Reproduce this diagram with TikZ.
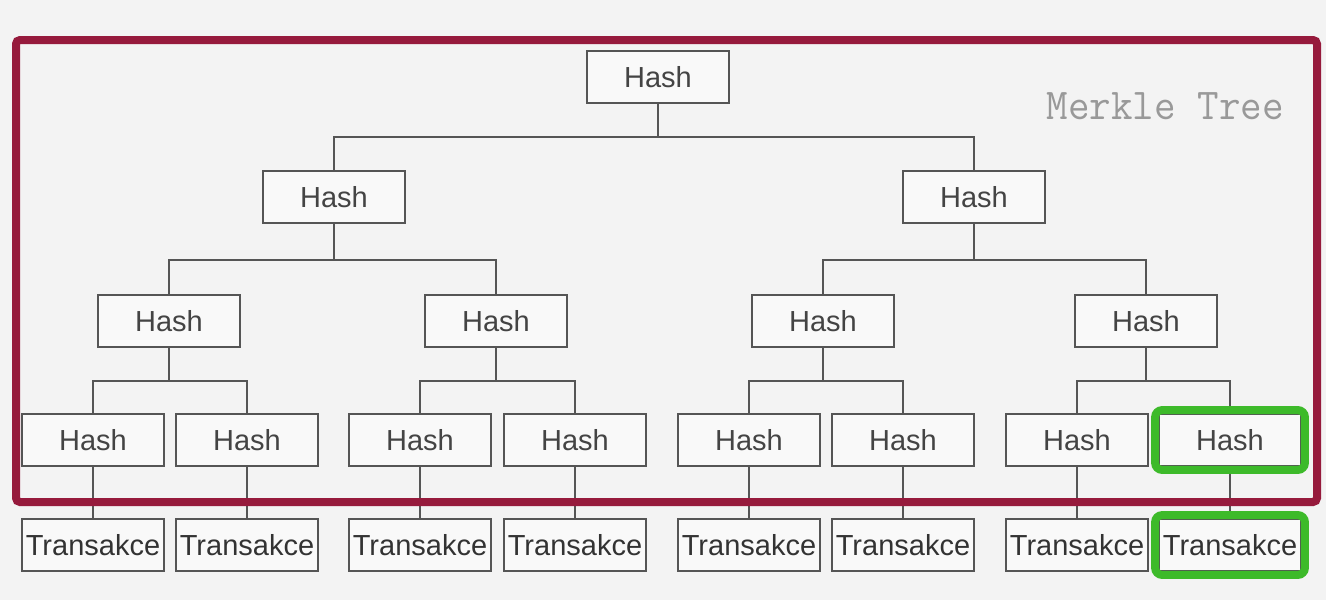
\documentclass[tikz,border=0pt]{standalone}
\usepackage{fontspec}
\setmainfont{Liberation Sans}
\definecolor{bg}{HTML}{F3F3F3}
\definecolor{frame}{HTML}{961A3C}
\definecolor{grn}{HTML}{3DBA2A}
\definecolor{boxc}{HTML}{555555}
\definecolor{txt}{HTML}{444444}
\begin{document}
\begin{tikzpicture}[x=1pt,y=-1pt,
  hbox/.style={draw=boxc,line width=1.8pt,fill=white!50!bg,minimum width=142pt,minimum height=52pt,inner sep=0pt,
    font=\fontsize{29}{29}\selectfont,text=txt},
  tbox/.style={hbox,text=black!80},
  conn/.style={draw=boxc,line width=1.8pt},
  hl/.style={draw=grn,line width=8pt,rounded corners=7pt}]
\fill[bg] (0,0) rectangle (1326,600);
% tree nodes
\node[hbox] (r) at (658,77) {Hash};
\node[hbox] (a) at (334,197) {Hash};
\node[hbox] (b) at (974,197) {Hash};
\node[hbox] (a1) at (169,321) {Hash};
\node[hbox] (a2) at (496,321) {Hash};
\node[hbox] (b1) at (823,321) {Hash};
\node[hbox] (b2) at (1146,321) {Hash};
\foreach \n/\x in {1/93,2/247,3/420,4/575,5/749,6/903,7/1077,8/1230}{
  \node[hbox] (l\n) at (\x,440) {Hash};
  \node[tbox] (t\n) at (\x,545) {Transakce};
}
% connectors
\draw[conn] (r.south) -- ++(0,33) -| (a.north);
\draw[conn] (r.south) -- ++(0,33) -| (b.north);
\draw[conn] (a.south) -- ++(0,36) -| (a1.north);
\draw[conn] (a.south) -- ++(0,36) -| (a2.north);
\draw[conn] (b.south) -- ++(0,36) -| (b1.north);
\draw[conn] (b.south) -- ++(0,36) -| (b2.north);
\draw[conn] (a1.south) -- ++(0,33) -| (l1.north);
\draw[conn] (a1.south) -- ++(0,33) -| (l2.north);
\draw[conn] (a2.south) -- ++(0,33) -| (l3.north);
\draw[conn] (a2.south) -- ++(0,33) -| (l4.north);
\draw[conn] (b1.south) -- ++(0,33) -| (l5.north);
\draw[conn] (b1.south) -- ++(0,33) -| (l6.north);
\draw[conn] (b2.south) -- ++(0,33) -| (l7.north);
\draw[conn] (b2.south) -- ++(0,33) -| (l8.north);
\foreach \n in {1,...,8}{ \draw[conn] (l\n.south) -- (t\n.north); }
% merkle frame
\coordinate (f1) at (16,40);
\coordinate (f2) at (1317,502);
\draw[frame,line width=8pt,rounded corners=4pt] (f1) rectangle (f2);
\node[anchor=base east,text=black!40,font=\ttfamily\fontsize{44}{44}\selectfont,xscale=0.95] (mt) at (1287,119) {Merkle Tree};
% highlights
\draw[hl] ([shift={(-3pt,3pt)}]l8.north west) rectangle ([shift={(3pt,-3pt)}]l8.south east);
\draw[hl] ([shift={(-3pt,3pt)}]t8.north west) rectangle ([shift={(3pt,-3pt)}]t8.south east);
\end{tikzpicture}
\end{document}
